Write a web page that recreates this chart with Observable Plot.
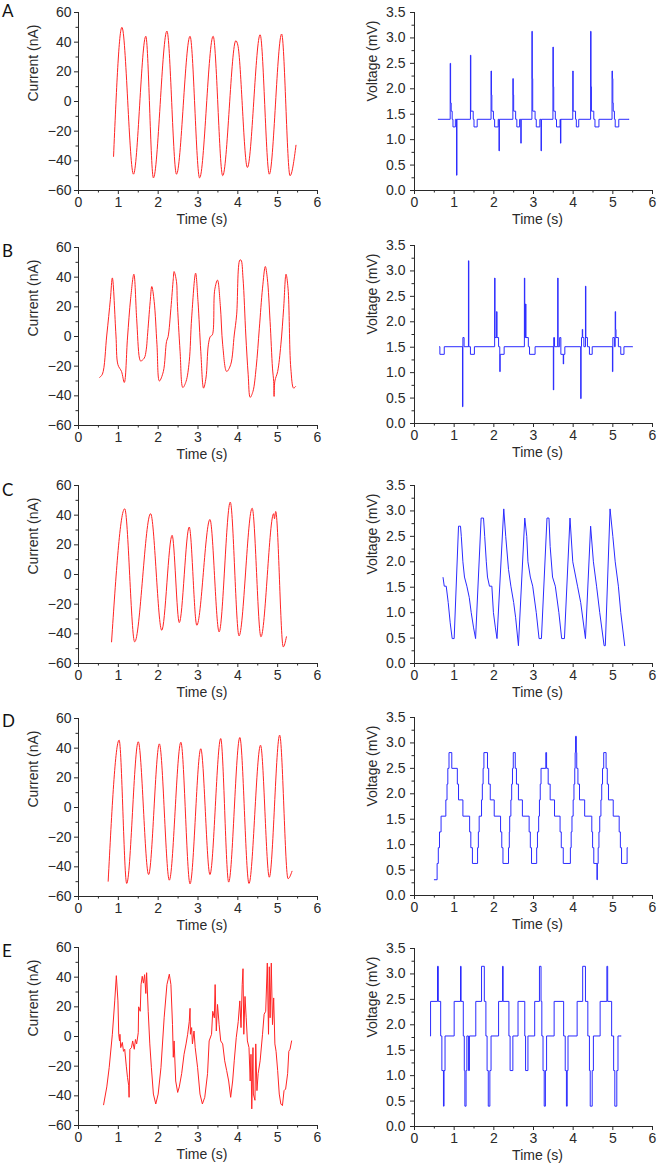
<!DOCTYPE html>
<html><head><meta charset="utf-8">
<script src="https://cdn.jsdelivr.net/npm/d3@7"></script>
<script src="https://cdn.jsdelivr.net/npm/@observablehq/plot@0.6"></script>
<style>
html,body{margin:0;padding:0;background:#fff;}
#page{position:relative;width:660px;height:1168px;overflow:hidden;background:#fff;}
.panel{position:absolute;}
</style></head><body><div id="page"></div>
<script>
// ---------- labels & ticks ----------
const panelLetters = ["A", "B", "C", "D", "E"];
const timeLabel = "Time (s)";
const currentLabel = "Current (nA)";
const voltageLabel = "Voltage (mV)";
const timeTicks = [0, 1, 2, 3, 4, 5, 6];
const timeMinorTicks = [0.5, 1.5, 2.5, 3.5, 4.5, 5.5];
const currentTicks = [-60, -40, -20, 0, 20, 40, 60];
const currentMinorTicks = [-50, -30, -10, 10, 30, 50];
const voltageTicks = [0, 0.5, 1, 1.5, 2, 2.5, 3, 3.5];
const voltageMinorTicks = [0.25, 0.75, 1.25, 1.75, 2.25, 2.75, 3.25];

// ---------- data: [time (s), value] ----------
const currentA = [[0.88,-37],[1.09,50],[1.38,-49],[1.69,44],[1.88,-51.5],[2.22,47.5],[2.46,-49],[2.80,44],[3.04,-51.5],[3.38,44],[3.62,-50],[3.95,41],[4.00,38],[4.24,-44.5],[4.56,45],[4.79,-49],[5.10,45.5],[5.31,-50],[5.46,-29.5]];

const currentB = [[0.53,-27.6],[0.60,-25.4],[0.71,1],[0.80,25],[0.85,39.5],[0.94,1],[0.99,-19],[1.08,-23.6],[1.15,-31],[1.23,-1],[1.31,25.8],[1.39,42],[1.46,12],[1.53,-14.6],[1.56,-16.5],[1.65,-14.6],[1.70,-9],[1.73,0],[1.80,23.6],[1.84,33.7],[1.90,23.6],[1.97,-5.6],[2.03,-30],[2.13,-23.6],[2.21,-3.4],[2.25,0],[2.32,19],[2.38,39],[2.40,43.8],[2.46,37],[2.48,23.6],[2.55,-10],[2.62,-34.4],[2.70,-30.3],[2.78,-16.8],[2.84,12.4],[2.94,42.7],[3.00,23.6],[3.07,-10],[3.14,-34.8],[3.20,-28],[3.26,-5.6],[3.31,0],[3.36,1.1],[3.42,31.5],[3.49,38],[3.56,21],[3.62,-5.6],[3.72,-23.6],[3.82,-19],[3.91,1],[3.97,14.6],[4.05,51.5],[4.08,51.5],[4.13,39.3],[4.20,1],[4.26,-25.8],[4.31,-41],[4.38,-37],[4.46,-21],[4.54,5.6],[4.62,32.6],[4.69,47.2],[4.74,39.3],[4.81,10],[4.87,-21.3],[4.90,-30.3],[4.91,-40.4],[4.93,-30],[5.00,-23.6],[5.08,-5.6],[5.15,19],[5.21,42],[5.26,32.6],[5.33,-21.3],[5.40,-34.8],[5.45,-33.7]];

const currentC = [[0.83,-45.4],[1.16,44.3],[1.41,-45.4],[1.81,41],[2.09,-37.6],[2.35,26.4],[2.53,-32.4],[2.78,32],[2.97,-34.2],[3.30,37.1],[3.53,-38.7],[3.81,48.8],[4.03,-41.4],[4.36,44.7],[4.58,-42],[4.90,41],[4.92,37.6],[4.95,42.5],[5.14,-48.8],[5.22,-42]];

const currentD = [[0.745,-49.7],[1.02,45.4],[1.21,-51.2],[1.50,44.3],[1.76,-45.2],[2.03,42.9],[2.28,-49],[2.57,44],[2.80,-51.5],[3.07,39.6],[3.30,-45.2],[3.57,46.5],[3.77,-50.3],[4.05,47.2],[4.28,-51.2],[4.57,42],[4.79,-47],[5.05,48.8],[5.26,-48],[5.36,-43]];

const currentE = [[0.63,-46],[0.71,-34],[0.77,-21],[0.85,1.5],[0.91,24],[0.95,41],[0.99,24],[1.01,1.5],[1.03,-3],[1.04,1.5],[1.06,-7.5],[1.10,-4],[1.13,-10],[1.16,-8.6],[1.20,-20],[1.23,-27.6],[1.26,-33],[1.27,-41],[1.29,-8.6],[1.33,-7.5],[1.36,-3],[1.40,-8.6],[1.43,-2],[1.46,-5],[1.50,2.6],[1.51,20],[1.55,17],[1.57,35],[1.60,40.6],[1.63,36],[1.66,41.7],[1.69,29],[1.71,43],[1.75,17],[1.79,-5],[1.83,-21],[1.88,-38.8],[1.94,-45.5],[2.00,-38.8],[2.07,-21],[2.15,12.6],[2.22,35],[2.28,42],[2.32,35],[2.36,8],[2.38,-14],[2.40,-3],[2.44,-30],[2.49,-37.7],[2.53,-34],[2.59,-25],[2.65,-12],[2.70,-5],[2.74,1.5],[2.78,10],[2.80,19],[2.81,1.5],[2.84,6],[2.86,-5],[2.90,3.7],[2.93,-7.5],[2.99,-21],[3.05,-38.8],[3.11,-45.5],[3.17,-41],[3.24,-25],[3.28,-3],[3.34,1.5],[3.37,17],[3.41,12.6],[3.43,35],[3.46,3.7],[3.49,21.6],[3.53,8],[3.57,-3],[3.62,-5],[3.67,-16.4],[3.72,-23],[3.77,-30],[3.81,-38.8],[3.82,-41],[3.87,-30],[3.91,-16.4],[3.96,-0.8],[4.01,10],[4.05,24],[4.08,6],[4.11,35],[4.13,45.7],[4.15,1.5],[4.18,27],[4.21,12.6],[4.24,-3],[4.28,-7.5],[4.31,-30],[4.33,-12],[4.35,-48.8],[4.38,-7.5],[4.39,-38.8],[4.43,-43],[4.45,-5],[4.48,-36.5],[4.51,-25],[4.56,-16.4],[4.62,1.5],[4.66,15],[4.70,17],[4.74,49.5],[4.77,1.5],[4.79,47],[4.81,12.6],[4.84,49.5],[4.87,8],[4.90,26],[4.93,-5],[4.96,-10],[5.00,-23],[5.04,-38.8],[5.08,-45.5],[5.12,-46.6],[5.16,-36.5],[5.20,-35.4],[5.25,-25],[5.28,-10],[5.31,-8.6],[5.35,-3]];

const voltageA = [[0.60,1.40],[0.90,2.50],[0.91,1.72],[0.925,1.56],[0.95,1.40],[0.97,1.25],[1.03,1.40],[1.06,0.30],[1.07,1.40],[1.41,2.66],[1.42,1.56],[1.48,1.40],[1.50,1.25],[1.58,1.40],[1.93,2.35],[1.94,1.88],[1.95,1.56],[1.99,1.40],[2.02,1.25],[2.11,1.40],[2.13,0.78],[2.14,1.40],[2.48,2.20],[2.49,1.88],[2.50,1.56],[2.55,1.40],[2.58,1.25],[2.65,1.40],[2.68,0.93],[2.69,1.40],[2.96,3.13],[2.97,2.20],[2.98,1.56],[3.04,1.40],[3.07,1.25],[3.16,1.40],[3.19,0.78],[3.20,1.40],[3.49,2.82],[3.50,2.04],[3.51,1.56],[3.55,1.40],[3.58,1.25],[3.67,1.40],[3.68,0.93],[3.69,1.40],[3.99,2.35],[4.00,1.56],[4.06,1.40],[4.08,1.25],[4.14,1.40],[4.44,3.13],[4.45,2.04],[4.46,1.56],[4.52,1.40],[4.55,1.25],[4.65,1.40],[4.98,2.35],[4.99,2.20],[5.00,1.72],[5.01,1.56],[5.04,1.40],[5.06,1.25],[5.15,1.40],[5.41,1.40]];

const voltageB = [[0.63,1.51],[0.64,1.36],[0.75,1.51],[1.21,0.33],[1.22,1.69],[1.25,1.51],[1.36,3.20],[1.37,1.51],[1.41,1.36],[1.51,1.51],[2.02,2.86],[2.03,1.69],[2.07,2.20],[2.08,1.69],[2.12,1.51],[2.15,1.02],[2.16,1.36],[2.26,1.51],[2.77,2.86],[2.78,1.69],[2.80,2.35],[2.81,1.69],[2.87,1.51],[2.90,1.36],[3.04,1.51],[3.50,0.66],[3.51,1.69],[3.53,1.51],[3.61,2.86],[3.62,1.51],[3.66,1.69],[3.69,1.36],[3.75,1.17],[3.76,1.36],[3.79,1.51],[4.19,0.49],[4.20,1.51],[4.21,1.69],[4.23,1.85],[4.24,1.69],[4.27,1.51],[4.31,2.70],[4.32,1.69],[4.36,1.51],[4.41,1.36],[4.48,1.51],[4.99,1.02],[5.00,1.69],[5.04,1.51],[5.06,2.20],[5.07,1.85],[5.08,1.69],[5.14,1.51],[5.20,1.36],[5.28,1.51],[5.50,1.51]];

const voltageC = [[0.72,1.69],[0.75,1.52],[0.80,1.52],[0.85,1.2],[0.90,0.8],[0.95,0.49],[1.00,0.49],[1.11,2.70],[1.16,2.70],[1.18,2.5],[1.22,2.0],[1.26,1.7],[1.32,1.52],[1.38,1.3],[1.43,1.0],[1.49,0.7],[1.54,0.49],[1.68,2.86],[1.74,2.86],[1.77,2.5],[1.81,2.0],[1.84,1.7],[1.89,1.52],[1.95,1.52],[1.99,1.0],[2.04,0.7],[2.08,0.49],[2.25,3.04],[2.30,2.5],[2.37,1.85],[2.43,1.52],[2.50,1.2],[2.55,0.9],[2.62,0.35],[2.78,2.86],[2.83,2.5],[2.86,2.0],[2.92,1.7],[2.98,1.52],[3.07,1.0],[3.14,0.49],[3.20,0.49],[3.34,2.86],[3.39,2.86],[3.42,2.3],[3.48,1.7],[3.55,1.52],[3.64,1.0],[3.71,0.49],[3.78,0.49],[3.92,2.86],[3.99,2.0],[4.11,1.52],[4.19,1.2],[4.31,0.49],[4.44,2.70],[4.51,2.0],[4.59,1.52],[4.67,1.0],[4.78,0.35],[4.81,0.35],[4.93,3.04],[5.00,2.5],[5.06,2.0],[5.14,1.52],[5.20,1.0],[5.30,0.35]];

const voltageD = [[0.50,0.31],[0.57,0.63],[0.60,0.94],[0.63,1.25],[0.67,1.56],[0.79,1.88],[0.82,2.19],[0.84,2.50],[0.87,2.81],[0.94,2.50],[1.08,2.19],[1.11,1.88],[1.22,1.56],[1.39,1.25],[1.42,0.94],[1.46,0.63],[1.59,0.94],[1.61,1.25],[1.63,1.56],[1.69,1.88],[1.71,2.19],[1.73,2.50],[1.75,2.81],[1.84,2.50],[1.87,2.19],[1.91,1.88],[2.01,1.56],[2.17,1.25],[2.20,0.94],[2.23,0.63],[2.37,0.94],[2.39,1.25],[2.40,1.56],[2.43,1.88],[2.45,2.19],[2.47,2.50],[2.49,2.81],[2.54,2.50],[2.57,2.19],[2.62,1.88],[2.72,1.56],[2.89,1.25],[2.92,0.94],[2.95,0.63],[3.08,0.94],[3.10,1.25],[3.13,1.56],[3.15,1.88],[3.17,2.19],[3.19,2.50],[3.31,2.81],[3.33,2.50],[3.37,2.19],[3.42,1.88],[3.53,1.56],[3.67,1.25],[3.70,0.94],[3.75,0.63],[3.93,0.94],[3.95,1.25],[3.97,1.56],[4.00,1.88],[4.02,2.19],[4.04,2.50],[4.05,2.81],[4.06,3.13],[4.08,2.81],[4.09,2.50],[4.12,2.19],[4.16,1.88],[4.29,1.56],[4.47,1.25],[4.49,0.94],[4.52,0.63],[4.60,0.31],[4.61,0.63],[4.63,0.94],[4.65,1.25],[4.67,1.56],[4.70,1.88],[4.72,2.19],[4.74,2.50],[4.77,2.81],[4.83,2.50],[4.86,2.19],[4.89,1.88],[5.01,1.56],[5.16,1.25],[5.19,0.94],[5.22,0.63],[5.36,0.94],[5.37,0.94]];

const voltageE = [[0.40,1.78],[0.405,2.46],[0.58,3.15],[0.60,2.46],[0.66,1.78],[0.69,1.10],[0.73,0.40],[0.745,1.10],[0.77,1.78],[1.00,2.46],[1.16,3.15],[1.175,2.46],[1.23,1.78],[1.255,1.10],[1.27,0.40],[1.30,1.10],[1.32,1.78],[1.36,1.10],[1.385,1.78],[1.545,2.46],[1.69,3.15],[1.76,2.46],[1.80,1.78],[1.83,1.10],[1.86,0.40],[1.90,1.10],[1.93,1.78],[2.12,2.46],[2.22,3.15],[2.235,2.46],[2.38,1.78],[2.41,1.10],[2.48,1.78],[2.61,2.46],[2.78,1.78],[2.80,1.10],[2.86,1.78],[3.03,2.46],[3.15,3.15],[3.19,2.46],[3.21,1.78],[3.24,1.10],[3.27,0.40],[3.30,1.10],[3.33,1.78],[3.52,2.46],[3.76,1.78],[3.80,1.10],[3.83,0.40],[3.85,1.10],[3.87,1.78],[4.10,2.46],[4.24,3.15],[4.31,2.46],[4.37,1.78],[4.41,1.10],[4.43,0.40],[4.48,1.10],[4.51,1.78],[4.68,2.46],[4.85,3.15],[4.87,2.46],[4.97,1.78],[5.02,1.10],[5.05,0.40],[5.10,1.10],[5.13,1.78],[5.21,1.78]];

// ---------- layout ----------
const currentSeries = [currentA, currentB, currentC, currentD, currentE];
const voltageSeries = [voltageA, voltageB, voltageC, voltageD, voltageE];
const currentCurves = ["monotone-x", "catmull-rom", "monotone-x", "monotone-x", "linear"];
const voltageCurves = ["step-after", "step-after", "linear", "step-after", "step-after"];
const leftPlotTops = [12, 246.7, 484.7, 717.7, 946.7];
const rightPlotTops = [12.3, 245, 484.7, 717.3, 948.3];
const letterBaselines = [16.7, 256.7, 496, 727, 957.3];

const page = document.getElementById("page");
const FONT = "'Liberation Sans', Arial, Helvetica, sans-serif";
const INK = "#2a2a2a";

function makePanel(data, isLeft, curve, plotTop) {
  const MT = 12, MB = 44;
  const yDomain = isLeft ? [-60, 60] : [0, 3.5];
  const chart = Plot.plot({
    width: 330, height: 178 + MT + MB,
    marginTop: MT, marginBottom: MB,
    marginLeft: isLeft ? 78 : 84, marginRight: isLeft ? 13 : 8,
    x: {domain: [0, 6]},
    y: {domain: yDomain},
    style: {fontFamily: FONT, fontSize: "14px", color: INK, background: "transparent", overflow: "visible"},
    marks: [
      Plot.line(data, {x: d => d[0], y: d => d[1], stroke: isLeft ? "#ff2424" : "#2b2bff", strokeWidth: 1, curve}),
      Plot.ruleX([0], {stroke: INK, strokeWidth: 1}),
      Plot.ruleY([yDomain[0]], {stroke: INK, strokeWidth: 1}),
      Plot.axisX({ticks: timeTicks, tickSize: 4, tickPadding: 3, label: null, tickFormat: d => String(d), fontSize: 14}),
      Plot.axisX({ticks: timeMinorTicks, tickSize: 2.5, label: null, tickFormat: () => ""}),
      Plot.axisY({ticks: isLeft ? currentTicks : voltageTicks, tickSize: 4, tickPadding: isLeft ? 3 : 5, label: null,
                  tickFormat: isLeft ? d3.format("d") : d3.format(".1f"), fontSize: 14}),
      Plot.axisY({ticks: isLeft ? currentMinorTicks : voltageMinorTicks, tickSize: 2.5, label: null, tickFormat: () => ""}),
      Plot.text([timeLabel], {text: d => d, frameAnchor: "bottom", dy: 33, dx: 4, fontSize: 14, fill: INK}),
      Plot.text([isLeft ? currentLabel : voltageLabel], {text: d => d, frameAnchor: "left", rotate: -90, dx: isLeft ? -45 : -42, fontSize: 14, fill: INK})
    ]
  });
  chart.classList.add("panel");
  chart.style.left = (isLeft ? 0 : 330) + "px";
  chart.style.top = (plotTop - MT) + "px";
  page.appendChild(chart);
}

for (let i = 0; i < 5; i++) {
  makePanel(currentSeries[i], true, currentCurves[i], leftPlotTops[i]);
  makePanel(voltageSeries[i], false, voltageCurves[i], rightPlotTops[i]);
}

// panel letters
const overlay = d3.select(page).append("svg")
  .attr("width", 660).attr("height", 1168)
  .style("position", "absolute").style("left", 0).style("top", 0).style("pointer-events", "none");
overlay.selectAll("text").data(panelLetters).join("text")
  .attr("x", 2).attr("y", (d, i) => letterBaselines[i])
  .attr("font-family", "Lato, 'Open Sans', sans-serif").attr("font-size", 17).attr("fill", "#111")
  .text(d => d);
</script></body></html>
